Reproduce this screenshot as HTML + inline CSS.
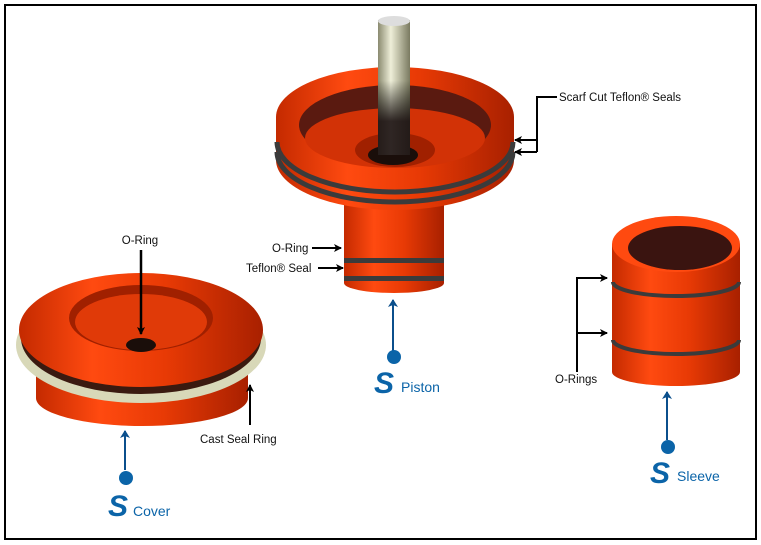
<!DOCTYPE html>
<html><head><meta charset="utf-8"><style>
html,body{margin:0;padding:0;background:#fff;}
svg{display:block;}
text{font-family:"Liberation Sans",sans-serif;}
</style></head><body>
<svg width="761" height="545" viewBox="0 0 761 545" xmlns="http://www.w3.org/2000/svg">
<defs>
<linearGradient id="red" x1="0" x2="1" y1="0" y2="0">
<stop offset="0" stop-color="#c42a00"/><stop offset="0.3" stop-color="#ff4a10"/><stop offset="0.6" stop-color="#e83a05"/><stop offset="1" stop-color="#a82000"/></linearGradient>
<linearGradient id="rod" x1="0" x2="1"><stop offset="0" stop-color="#8a8a70"/><stop offset="0.4" stop-color="#eeeed8"/><stop offset="1" stop-color="#7a7a60"/></linearGradient>
<linearGradient id="rodv" x1="0" x2="0" y1="0" y2="1"><stop offset="0" stop-color="#fff" stop-opacity="0"/><stop offset="0.45" stop-color="#000" stop-opacity="0"/><stop offset="0.75" stop-color="#1a1010" stop-opacity="0.9"/></linearGradient>
<marker id="ah" markerWidth="8" markerHeight="8" refX="7" refY="4" orient="auto" markerUnits="userSpaceOnUse"><path d="M0,0 L8,4 L0,8 L2,4z" fill="#000"/></marker>
<marker id="bh" markerWidth="8" markerHeight="10" refX="7" refY="5" orient="auto" markerUnits="userSpaceOnUse"><path d="M0,0 L8,5 L0,10 L2,5z" fill="#0b4f8c"/></marker>
</defs>
<rect x="5" y="5" width="751" height="534" fill="#fff" stroke="#000" stroke-width="2"/>

<!-- Cover -->
<path d="M36,340 L36,398 A106,28 0 0 0 248,398 L248,340z" fill="url(#red)"/>
<ellipse cx="141" cy="345" rx="125" ry="58" fill="#d8d8b8"/>
<ellipse cx="141" cy="338" rx="120" ry="56" fill="#3a1a10"/>
<ellipse cx="141" cy="330" rx="122" ry="57" fill="url(#red)"/>
<ellipse cx="141" cy="318" rx="72" ry="33" fill="#a02000"/>
<ellipse cx="141" cy="322" rx="66" ry="28" fill="#e03a08"/>
<ellipse cx="141" cy="345" rx="15" ry="7" fill="#1a0e0a"/>
<text x="140" y="244" font-size="11.5" text-anchor="middle" fill="#111">O-Ring</text>
<line x1="141" y1="250" x2="141" y2="334" stroke="#000" stroke-width="2.5" marker-end="url(#ah)"/>
<line x1="250" y1="425" x2="250" y2="385" stroke="#000" stroke-width="2" marker-end="url(#ah)"/>
<text x="200" y="443" font-size="11.5" fill="#111">Cast Seal Ring</text>
<line x1="125" y1="470" x2="125" y2="431" stroke="#0b4f8c" stroke-width="2" marker-end="url(#bh)"/>
<circle cx="126" cy="478" r="7" fill="#0b64a8"/>
<text x="108" y="516" font-size="30" font-style="italic" font-weight="bold" font-family="Liberation Serif,serif" fill="#0b64a8">S</text>
<text x="133" y="516" font-size="14" fill="#0b64a8">Cover</text>

<!-- Piston -->
<path d="M344,195 L344,283 A50,10 0 0 0 444,283 L444,195z" fill="url(#red)"/>
<rect x="344" y="258" width="100" height="5" fill="#3b3b3b"/>
<rect x="344" y="276" width="100" height="5" fill="#3b3b3b"/>
<path d="M276,117 L276,160 A119,50 0 0 0 514,160 L514,117z" fill="url(#red)"/>
<path d="M277,142 A118,50 0 0 0 513,142" fill="none" stroke="#3b3b3b" stroke-width="5"/>
<path d="M277,152 A118,50 0 0 0 513,152" fill="none" stroke="#3b3b3b" stroke-width="5"/>
<ellipse cx="395" cy="117" rx="119" ry="50" fill="url(#red)"/>
<ellipse cx="395" cy="125" rx="96" ry="40" fill="#5a1a10"/>
<ellipse cx="395" cy="138" rx="90" ry="30" fill="#d23206"/>
<ellipse cx="395" cy="150" rx="40" ry="17" fill="#a02000"/>
<ellipse cx="393" cy="155" rx="25" ry="10" fill="#1a0e0a"/>
<rect x="378" y="20" width="32" height="135" fill="url(#rod)"/>
<rect x="378" y="20" width="32" height="135" fill="url(#rodv)"/>
<ellipse cx="394" cy="21" rx="16" ry="5" fill="#ddd"/>
<text x="272" y="252" font-size="11.5" fill="#111">O-Ring</text>
<line x1="312" y1="248" x2="341" y2="248" stroke="#000" stroke-width="2" marker-end="url(#ah)"/>
<text x="246" y="272" font-size="11.5" fill="#111">Teflon® Seal</text>
<line x1="318" y1="268" x2="343" y2="268" stroke="#000" stroke-width="2" marker-end="url(#ah)"/>
<line x1="537" y1="97" x2="557" y2="97" stroke="#000" stroke-width="2"/>
<line x1="537" y1="96" x2="537" y2="152" stroke="#000" stroke-width="2"/>
<line x1="537" y1="140" x2="515" y2="140" stroke="#000" stroke-width="2" marker-end="url(#ah)"/>
<line x1="537" y1="152" x2="515" y2="152" stroke="#000" stroke-width="2" marker-end="url(#ah)"/>
<text x="559" y="101" font-size="11.5" fill="#111">Scarf Cut Teflon® Seals</text>
<line x1="393" y1="355" x2="393" y2="300" stroke="#0b4f8c" stroke-width="2" marker-end="url(#bh)"/>
<circle cx="394" cy="357" r="7" fill="#0b64a8"/>
<text x="374" y="393" font-size="30" font-style="italic" font-weight="bold" font-family="Liberation Serif,serif" fill="#0b64a8">S</text>
<text x="401" y="392" font-size="14" fill="#0b64a8">Piston</text>

<!-- Sleeve -->
<path d="M612,244 L612,372 A64,14 0 0 0 740,372 L740,244z" fill="url(#red)"/>
<path d="M613,282 A63,14 0 0 0 739,282" fill="none" stroke="#3b3b3b" stroke-width="4"/>
<path d="M613,340 A63,14 0 0 0 739,340" fill="none" stroke="#3b3b3b" stroke-width="4"/>
<ellipse cx="676" cy="244" rx="64" ry="28" fill="#ff4a10"/>
<ellipse cx="680" cy="248" rx="52" ry="22" fill="#3a1410"/>
<text x="555" y="383" font-size="11.5" fill="#111">O-Rings</text>
<line x1="577" y1="278" x2="577" y2="372" stroke="#000" stroke-width="2"/>
<line x1="576" y1="278" x2="607" y2="278" stroke="#000" stroke-width="2" marker-end="url(#ah)"/>
<line x1="576" y1="333" x2="607" y2="333" stroke="#000" stroke-width="2" marker-end="url(#ah)"/>
<line x1="667" y1="440" x2="667" y2="392" stroke="#0b4f8c" stroke-width="2" marker-end="url(#bh)"/>
<circle cx="668" cy="447" r="7" fill="#0b64a8"/>
<text x="650" y="483" font-size="30" font-style="italic" font-weight="bold" font-family="Liberation Serif,serif" fill="#0b64a8">S</text>
<text x="677" y="481" font-size="14" fill="#0b64a8">Sleeve</text>
</svg>
</body></html>
